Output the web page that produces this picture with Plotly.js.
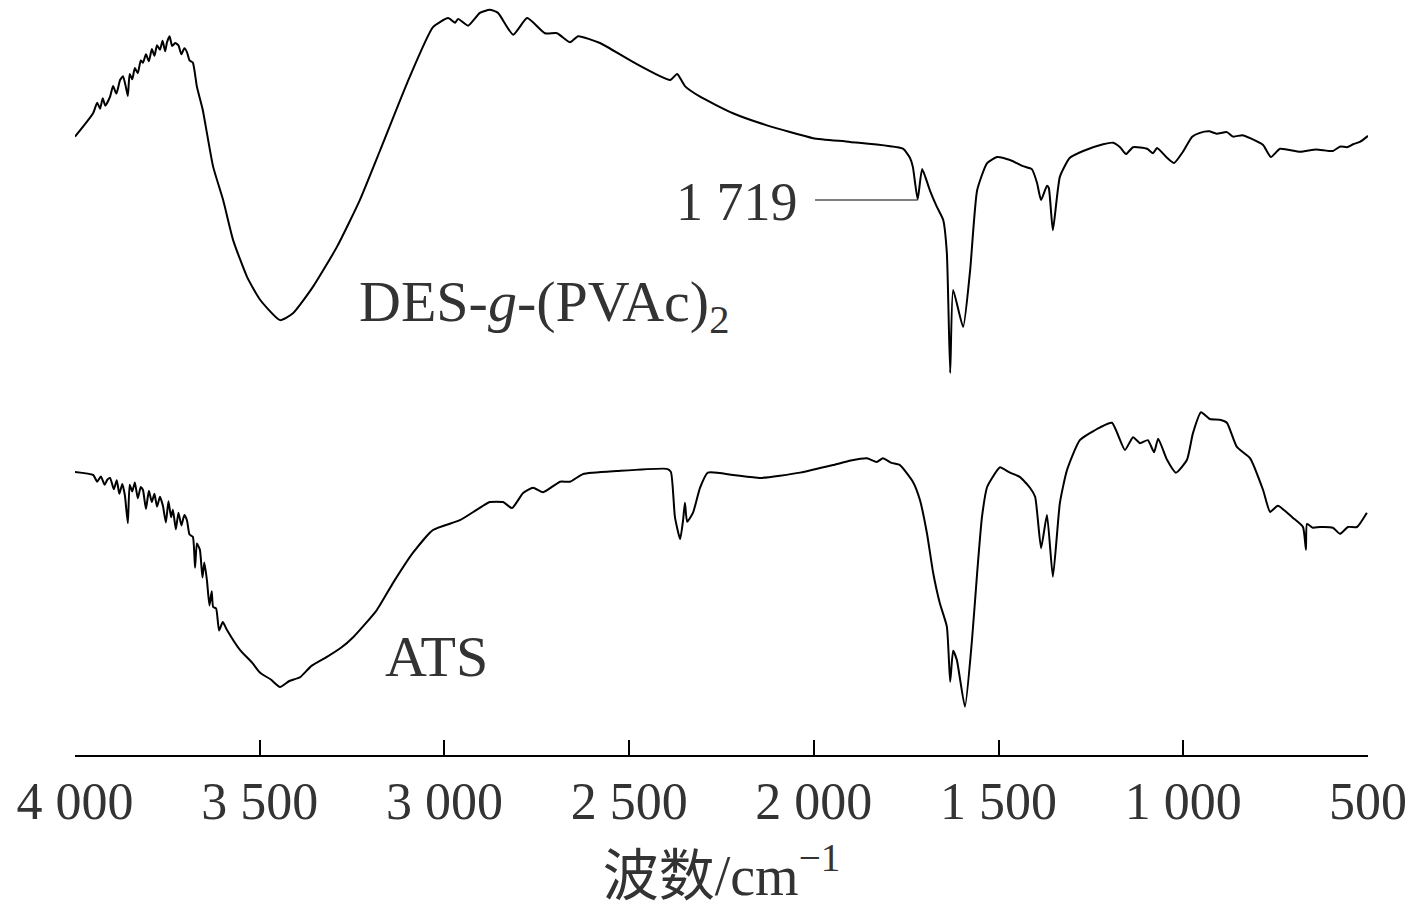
<!DOCTYPE html>
<html>
<head>
<meta charset="utf-8">
<script src="https://cdn.plot.ly/plotly-3.0.1.min.js"></script>
<style>
  html, body { margin: 0; padding: 0; background: #fff; }
  #plot { width: 1422px; height: 924px; }
</style>
</head>
<body>
<div id="plot"></div>
<script>
"use strict";

// FTIR spectra, transmittance in arbitrary units (curves stacked, no y scale shown).
// Wavenumbers in cm^-1.

const desWn = [
    4000, 3951, 3940, 3932, 3925, 3918, 3905, 3897, 3888, 3878, 3870, 3862, 3857, 3852,
    3845, 3838, 3830, 3822, 3816, 3808, 3800, 3792, 3785, 3778, 3770, 3763, 3756, 3751,
    3744, 3737, 3729, 3720, 3712, 3704, 3697, 3690, 3681, 3670, 3654, 3643, 3626, 3599,
    3572, 3534, 3499, 3445, 3410, 3356, 3291, 3229, 3174, 3101, 3031, 2990, 2971, 2963,
    2936, 2904, 2877, 2855, 2814, 2776, 2728, 2695, 2660, 2638, 2579, 2490, 2389, 2370,
    2349, 2308, 2219, 2127, 2002, 1902, 1759, 1740, 1732, 1719, 1707, 1686, 1667, 1650,
    1640, 1631, 1623, 1596, 1577, 1558, 1531, 1504, 1469, 1434, 1410, 1396, 1385, 1369,
    1364, 1353, 1334, 1307, 1271, 1217, 1190, 1171, 1155, 1136, 1098, 1082, 1071, 1044,
    1025, 1001, 976, 955, 930, 910, 882, 865, 840, 819, 784, 763, 738, 684, 640, 595,
    575, 557, 540, 522, 500
];
const desT = [
    81.9, 85.0, 86.4, 85.6, 87.0, 86.0, 87.2, 88.6, 87.6, 89.4, 89.9, 88.4, 87.3, 90.2,
    89.5, 91.0, 90.3, 92.0, 91.7, 92.8, 91.9, 93.5, 92.6, 94.0, 93.4, 94.6, 93.2, 94.4,
    95.2, 93.9, 94.3, 94.0, 92.8, 93.6, 93.1, 92.0, 91.7, 88.5, 85.4, 82.4, 77.9, 73.5,
    68.2, 63.3, 60.3, 57.6, 58.5, 62.0, 67.3, 73.5, 80.1, 89.0, 96.4, 97.6, 97.0, 97.5,
    96.6, 98.3, 98.7, 98.3, 95.4, 97.6, 95.6, 95.6, 94.4, 95.2, 94.3, 91.8, 89.4, 90.2,
    88.6, 87.2, 85.0, 83.4, 81.7, 81.2, 80.3, 79.1, 77.9, 73.6, 77.6, 74.8, 72.6, 70.9,
    66.5, 50.6, 61.6, 56.7, 64.2, 74.8, 78.4, 79.2, 78.8, 78.0, 77.6, 75.8, 73.5, 75.4,
    75.1, 69.5, 76.6, 79.1, 80.0, 80.9, 81.1, 80.5, 79.6, 80.5, 80.3, 79.7, 80.4, 79.1,
    78.4, 79.9, 81.9, 82.4, 82.6, 82.3, 82.5, 81.9, 82.1, 81.7, 80.8, 79.2, 80.3, 79.9,
    80.2, 80.0, 80.6, 80.5, 80.9, 81.2, 82.0
];

const atsWn = [
    4000, 3951, 3940, 3930, 3920, 3912, 3905, 3895, 3887, 3880, 3872, 3865, 3857, 3852,
    3845, 3838, 3830, 3822, 3816, 3808, 3800, 3792, 3785, 3778, 3770, 3762, 3754, 3747,
    3740, 3735, 3727, 3720, 3712, 3704, 3697, 3690, 3681, 3675, 3670, 3662, 3655, 3650,
    3643, 3636, 3630, 3626, 3618, 3610, 3600, 3589, 3553, 3520, 3499, 3470, 3445, 3420,
    3391, 3360, 3318, 3280, 3247, 3183, 3139, 3085, 3031, 2958, 2912, 2877, 2841, 2817,
    2787, 2760, 2733, 2687, 2660, 2625, 2533, 2398, 2387, 2376, 2362, 2354, 2349, 2343,
    2327, 2308, 2287, 2219, 2146, 2037, 1948, 1900, 1856, 1830, 1813, 1790, 1767, 1732,
    1713, 1694, 1677, 1659, 1640, 1631, 1623, 1613, 1591, 1572, 1558, 1545, 1531, 1504,
    1496, 1469, 1442, 1415, 1401, 1385, 1369, 1353, 1334, 1315, 1280, 1225, 1193, 1158,
    1136, 1117, 1096, 1079, 1068, 1044, 1020, 990, 974, 952, 928, 901, 882, 855, 819,
    784, 765, 744, 703, 676, 668, 665, 649, 630, 595, 576, 554, 530, 503
];
const atsT = [
    37.5, 37.1, 36.2, 36.9, 35.8, 36.5, 36.7, 35.2, 36.4, 34.6, 35.9, 34.4, 30.7, 35.8,
    34.9, 36.1, 34.0, 35.5, 35.1, 32.6, 35.0, 33.5, 34.6, 32.9, 34.2, 33.0, 30.8, 33.6,
    31.5, 32.5, 29.9, 32.1, 30.4, 31.8, 31.1, 29.2, 28.9, 24.8, 28.0, 27.2, 23.5, 25.5,
    23.2, 19.8, 21.7, 19.6, 19.4, 16.5, 17.6, 16.6, 13.9, 12.2, 10.9, 10.0, 9.0, 9.8,
    10.3, 11.8, 13.0, 14.2, 15.6, 19.2, 22.8, 26.8, 29.8, 31.1, 32.5, 33.5, 33.5, 32.7,
    34.7, 35.4, 34.8, 36.2, 36.2, 37.2, 37.6, 37.9, 37.5, 31.5, 28.6, 31.1, 33.4, 30.9,
    32.1, 35.4, 37.4, 37.1, 36.7, 37.4, 38.4, 39.0, 39.3, 38.8, 39.3, 38.7, 38.4, 36.2,
    33.8, 29.4, 24.1, 20.1, 17.0, 9.7, 13.8, 12.6, 6.4, 15.2, 24.1, 31.5, 35.5, 37.7,
    38.1, 37.4, 36.8, 35.4, 34.2, 27.4, 31.8, 23.6, 33.4, 37.7, 41.7, 43.4, 44.0, 40.4,
    42.1, 41.3, 41.7, 40.1, 41.9, 39.1, 37.4, 39.1, 42.6, 45.4, 44.5, 44.4, 44.0, 40.8, 39.3,
    35.1, 32.2, 33.0, 31.4, 30.2, 27.2, 30.6, 30.1, 30.2, 30.1, 29.3, 30.2, 30.2, 32.1
];

const xTicks = [4000, 3500, 3000, 2500, 2000, 1500, 1000, 500];

const SERIF = "'Liberation Serif', 'Times New Roman', 'Noto Sans CJK SC', serif";
const TEXT_COLOR = "#333333";

// Smooth a little so the hand-read points don't look like a polyline.
const curveLine = { color: "#000", width: 2, shape: "spline", smoothing: 0.5 };

const traces = [
    {
        type: "scatter", mode: "lines", name: "DES-g-(PVAc)2",
        x: desWn, y: desT, line: curveLine,
        hoverinfo: "x+y", showlegend: false,
    },
    {
        type: "scatter", mode: "lines", name: "ATS",
        x: atsWn, y: atsT, line: curveLine,
        hoverinfo: "x+y", showlegend: false,
    },
];

const layout = {
    width: 1422, height: 924,
    margin: { l: 75, r: 54, t: 0, b: 169 },
    paper_bgcolor: "#fff", plot_bgcolor: "#fff",
    separators: ". ",
    font: { family: SERIF, color: TEXT_COLOR, size: 56 },
    xaxis: {
        range: [4000, 500],
        tickvals: xTicks,
        tickformat: ",d",
        ticks: "inside", ticklen: 15, tickwidth: 2, tickcolor: "#000",
        showline: true, linecolor: "#000", linewidth: 2,
        showgrid: false, zeroline: false,
        tickfont: { family: SERIF, size: 52, color: TEXT_COLOR },
        title: {
            text: "波数/cm<sup>−1</sup>",
            font: { family: SERIF, size: 56, color: TEXT_COLOR },
            standoff: 26,
        },
    },
    yaxis: {
        range: [0, 100], visible: false, showgrid: false, zeroline: false,
    },
    shapes: [
        {
            type: "line", xref: "x", yref: "y",
            x0: 1997, x1: 1719, y0: 73.5, y1: 73.5,
            line: { color: "#555", width: 1.5 },
        },
    ],
    annotations: [
        {
            x: 2037, y: 73.3, xref: "x", yref: "y",
            xanchor: "right", yanchor: "middle", showarrow: false,
            text: "1 719",
            font: { family: SERIF, size: 54, color: TEXT_COLOR },
        },
        {
            x: 3237, y: 59.6, xref: "x", yref: "y",
            xanchor: "left", yanchor: "middle", showarrow: false,
            text: "DES-<i>g</i>-(PVAc)<sub>2</sub>",
            font: { family: SERIF, size: 58, color: TEXT_COLOR },
        },
        {
            x: 3166, y: 13.0, xref: "x", yref: "y",
            xanchor: "left", yanchor: "middle", showarrow: false,
            text: "ATS",
            font: { family: SERIF, size: 58, color: TEXT_COLOR },
        },
    ],
    showlegend: false,
};

Plotly.newPlot("plot", traces, layout, { displayModeBar: false, staticPlot: true });
</script>
</body>
</html>
